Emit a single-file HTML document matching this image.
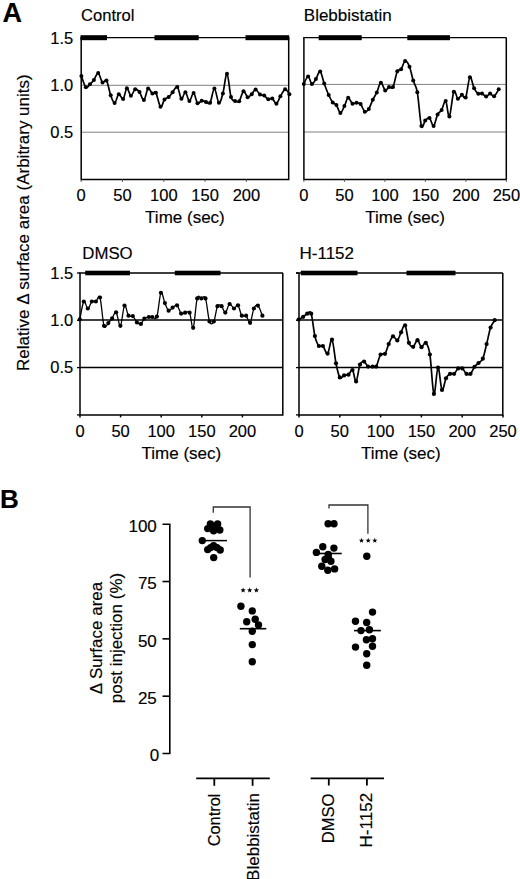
<!DOCTYPE html>
<html><head><meta charset="utf-8"><style>
html,body{margin:0;padding:0;background:#fff;}
body{width:520px;height:879px;overflow:hidden;}
svg{display:block;font-family:"Liberation Sans", sans-serif;}
text{stroke:#000;stroke-width:0.15px;}
</style></head><body>
<svg width="520" height="879" viewBox="0 0 520 879" fill="#000">
<rect width="520" height="879" fill="#fff"/>
<text x="2.6" y="21.7" font-size="27" text-anchor="start" font-weight="bold">A</text>
<text x="81.0" y="20.7" font-size="16.6" text-anchor="start" font-weight="normal">Control</text>
<text x="303.8" y="20.5" font-size="17" text-anchor="start" font-weight="normal">Blebbistatin</text>
<text x="82.3" y="258.7" font-size="16.8" text-anchor="start" font-weight="normal">DMSO</text>
<text x="299.5" y="258.7" font-size="17" text-anchor="start" font-weight="normal">H-1152</text>
<text x="29" y="371" font-size="17" text-anchor="start" font-weight="normal" transform="rotate(-90 29 371)">Relative &#916; surface area (Arbitrary units)</text>
<line x1="81.2" y1="85.3" x2="288.7" y2="85.3" stroke="#808080" stroke-width="1.0"/>
<line x1="81.2" y1="132.2" x2="288.7" y2="132.2" stroke="#808080" stroke-width="1.0"/>
<path d="M81.2,37.6 L81.2,179.4 L288.7,179.4 L288.7,37.6" fill="none" stroke="#000" stroke-width="1.5"/>
<line x1="303.9" y1="84.4" x2="506.3" y2="84.4" stroke="#808080" stroke-width="1.0"/>
<line x1="303.9" y1="132.0" x2="506.3" y2="132.0" stroke="#808080" stroke-width="1.0"/>
<path d="M303.9,37.6 L303.9,179.4 L506.3,179.4 L506.3,37.6" fill="none" stroke="#000" stroke-width="1.5"/>
<line x1="80.0" y1="320.0" x2="282.8" y2="320.0" stroke="#000" stroke-width="1.5"/>
<line x1="80.0" y1="367.4" x2="282.8" y2="367.4" stroke="#000" stroke-width="1.5"/>
<path d="M80.0,273.0 L80.0,414.9 L282.8,414.9 L282.8,273.0" fill="none" stroke="#000" stroke-width="1.5"/>
<line x1="77.0" y1="414.9" x2="80.0" y2="414.9" stroke="#000" stroke-width="1.3"/>
<line x1="77.0" y1="367.59999999999997" x2="80.0" y2="367.59999999999997" stroke="#000" stroke-width="1.3"/>
<line x1="77.0" y1="320.3" x2="80.0" y2="320.3" stroke="#000" stroke-width="1.3"/>
<line x1="77.0" y1="273.0" x2="80.0" y2="273.0" stroke="#000" stroke-width="1.3"/>
<line x1="299.0" y1="319.9" x2="502.8" y2="319.9" stroke="#000" stroke-width="1.5"/>
<line x1="299.0" y1="367.6" x2="502.8" y2="367.6" stroke="#000" stroke-width="1.5"/>
<path d="M299.0,273.0 L299.0,414.9 L502.8,414.9 L502.8,273.0" fill="none" stroke="#000" stroke-width="1.5"/>
<line x1="296.0" y1="414.9" x2="299.0" y2="414.9" stroke="#000" stroke-width="1.3"/>
<line x1="296.0" y1="367.59999999999997" x2="299.0" y2="367.59999999999997" stroke="#000" stroke-width="1.3"/>
<line x1="296.0" y1="320.3" x2="299.0" y2="320.3" stroke="#000" stroke-width="1.3"/>
<line x1="296.0" y1="273.0" x2="299.0" y2="273.0" stroke="#000" stroke-width="1.3"/>
<line x1="80.5" y1="37.7" x2="289.2" y2="37.7" stroke="#000" stroke-width="1.3"/>
<rect x="80.5" y="35.2" width="26.5" height="5"/>
<rect x="154.5" y="35.2" width="44.19999999999999" height="5"/>
<rect x="245.5" y="35.2" width="43.69999999999999" height="5"/>
<line x1="303.2" y1="37.7" x2="506.3" y2="37.7" stroke="#000" stroke-width="1.3"/>
<rect x="318.7" y="35.2" width="43.0" height="5"/>
<rect x="407.3" y="35.2" width="42.69999999999999" height="5"/>
<line x1="79.3" y1="273.0" x2="283.0" y2="273.0" stroke="#000" stroke-width="1.3"/>
<rect x="85.2" y="270.7" width="44.8" height="4.6"/>
<rect x="174.8" y="270.7" width="45.69999999999999" height="4.6"/>
<line x1="296" y1="273.0" x2="502.8" y2="273.0" stroke="#000" stroke-width="1.3"/>
<rect x="300.8" y="270.7" width="56.69999999999999" height="4.6"/>
<rect x="406.5" y="270.7" width="49.0" height="4.6"/>
<text x="73.3" y="44.4" font-size="16.5" text-anchor="end" font-weight="normal">1.5</text>
<text x="73.3" y="90.5" font-size="16.5" text-anchor="end" font-weight="normal">1.0</text>
<text x="73.3" y="138.3" font-size="16.5" text-anchor="end" font-weight="normal">0.5</text>
<text x="73.3" y="279.4" font-size="16.5" text-anchor="end" font-weight="normal">1.5</text>
<text x="73.3" y="325.7" font-size="16.5" text-anchor="end" font-weight="normal">1.0</text>
<text x="73.3" y="372.79999999999995" font-size="16.5" text-anchor="end" font-weight="normal">0.5</text>
<line x1="81.2" y1="179.4" x2="81.2" y2="181.9" stroke="#555" stroke-width="1.0"/>
<text x="81.2" y="201.2" font-size="16.5" text-anchor="middle" font-weight="normal">0</text>
<line x1="122.5" y1="179.4" x2="122.5" y2="181.9" stroke="#555" stroke-width="1.0"/>
<text x="122.5" y="201.2" font-size="16.5" text-anchor="middle" font-weight="normal">50</text>
<line x1="163.8" y1="179.4" x2="163.8" y2="181.9" stroke="#555" stroke-width="1.0"/>
<text x="163.8" y="201.2" font-size="16.5" text-anchor="middle" font-weight="normal">100</text>
<line x1="205.1" y1="179.4" x2="205.1" y2="181.9" stroke="#555" stroke-width="1.0"/>
<text x="205.1" y="201.2" font-size="16.5" text-anchor="middle" font-weight="normal">150</text>
<line x1="246.39999999999998" y1="179.4" x2="246.39999999999998" y2="181.9" stroke="#555" stroke-width="1.0"/>
<text x="246.39999999999998" y="201.2" font-size="16.5" text-anchor="middle" font-weight="normal">200</text>
<text x="184.95" y="222.7" font-size="17" text-anchor="middle" font-weight="normal">Time (sec)</text>
<line x1="303.9" y1="179.4" x2="303.9" y2="181.9" stroke="#555" stroke-width="1.0"/>
<text x="303.9" y="201.2" font-size="16.5" text-anchor="middle" font-weight="normal">0</text>
<line x1="344.4" y1="179.4" x2="344.4" y2="181.9" stroke="#555" stroke-width="1.0"/>
<text x="344.4" y="201.2" font-size="16.5" text-anchor="middle" font-weight="normal">50</text>
<line x1="384.9" y1="179.4" x2="384.9" y2="181.9" stroke="#555" stroke-width="1.0"/>
<text x="384.9" y="201.2" font-size="16.5" text-anchor="middle" font-weight="normal">100</text>
<line x1="425.4" y1="179.4" x2="425.4" y2="181.9" stroke="#555" stroke-width="1.0"/>
<text x="425.4" y="201.2" font-size="16.5" text-anchor="middle" font-weight="normal">150</text>
<line x1="465.9" y1="179.4" x2="465.9" y2="181.9" stroke="#555" stroke-width="1.0"/>
<text x="465.9" y="201.2" font-size="16.5" text-anchor="middle" font-weight="normal">200</text>
<line x1="506.4" y1="179.4" x2="506.4" y2="181.9" stroke="#555" stroke-width="1.0"/>
<text x="506.4" y="201.2" font-size="16.5" text-anchor="middle" font-weight="normal">250</text>
<text x="405.1" y="222.7" font-size="17" text-anchor="middle" font-weight="normal">Time (sec)</text>
<line x1="80.0" y1="414.9" x2="80.0" y2="417.4" stroke="#000" stroke-width="1.5"/>
<text x="80.0" y="437.0" font-size="16.5" text-anchor="middle" font-weight="normal">0</text>
<line x1="120.6" y1="414.9" x2="120.6" y2="417.4" stroke="#000" stroke-width="1.5"/>
<text x="120.6" y="437.0" font-size="16.5" text-anchor="middle" font-weight="normal">50</text>
<line x1="161.2" y1="414.9" x2="161.2" y2="417.4" stroke="#000" stroke-width="1.5"/>
<text x="161.2" y="437.0" font-size="16.5" text-anchor="middle" font-weight="normal">100</text>
<line x1="201.8" y1="414.9" x2="201.8" y2="417.4" stroke="#000" stroke-width="1.5"/>
<text x="201.8" y="437.0" font-size="16.5" text-anchor="middle" font-weight="normal">150</text>
<line x1="242.4" y1="414.9" x2="242.4" y2="417.4" stroke="#000" stroke-width="1.5"/>
<text x="242.4" y="437.0" font-size="16.5" text-anchor="middle" font-weight="normal">200</text>
<text x="181.4" y="458.5" font-size="17" text-anchor="middle" font-weight="normal">Time (sec)</text>
<line x1="299.0" y1="414.9" x2="299.0" y2="417.4" stroke="#000" stroke-width="1.5"/>
<text x="299.0" y="437.0" font-size="16.5" text-anchor="middle" font-weight="normal">0</text>
<line x1="339.8" y1="414.9" x2="339.8" y2="417.4" stroke="#000" stroke-width="1.5"/>
<text x="339.8" y="437.0" font-size="16.5" text-anchor="middle" font-weight="normal">50</text>
<line x1="380.6" y1="414.9" x2="380.6" y2="417.4" stroke="#000" stroke-width="1.5"/>
<text x="380.6" y="437.0" font-size="16.5" text-anchor="middle" font-weight="normal">100</text>
<line x1="421.4" y1="414.9" x2="421.4" y2="417.4" stroke="#000" stroke-width="1.5"/>
<text x="421.4" y="437.0" font-size="16.5" text-anchor="middle" font-weight="normal">150</text>
<line x1="462.2" y1="414.9" x2="462.2" y2="417.4" stroke="#000" stroke-width="1.5"/>
<text x="462.2" y="437.0" font-size="16.5" text-anchor="middle" font-weight="normal">200</text>
<line x1="503.0" y1="414.9" x2="503.0" y2="417.4" stroke="#000" stroke-width="1.5"/>
<text x="503.0" y="437.0" font-size="16.5" text-anchor="middle" font-weight="normal">250</text>
<text x="400.9" y="458.5" font-size="17" text-anchor="middle" font-weight="normal">Time (sec)</text>
<path d="M81.40,75.90 C82.13,77.78 84.38,85.82 85.80,87.20 C87.22,88.58 88.55,85.42 89.90,84.20 C91.25,82.98 92.52,81.75 93.90,79.90 C95.28,78.05 96.77,72.65 98.20,73.10 C99.63,73.55 101.12,81.37 102.50,82.60 C103.88,83.83 105.13,78.38 106.50,80.50 C107.87,82.62 109.35,91.53 110.70,95.30 C112.05,99.07 113.25,103.27 114.60,103.10 C115.95,102.93 117.38,94.98 118.80,94.30 C120.22,93.62 121.75,100.00 123.10,99.00 C124.45,98.00 125.60,88.85 126.90,88.30 C128.20,87.75 129.52,95.53 130.90,95.70 C132.28,95.87 133.77,89.92 135.20,89.30 C136.63,88.68 138.05,90.20 139.50,92.00 C140.95,93.80 142.47,100.68 143.90,100.10 C145.33,99.52 146.68,89.58 148.10,88.50 C149.52,87.42 151.10,92.90 152.40,93.60 C153.70,94.30 154.55,90.50 155.90,92.70 C157.25,94.90 159.07,105.65 160.50,106.80 C161.93,107.95 163.13,101.23 164.50,99.60 C165.87,97.97 167.35,98.22 168.70,97.00 C170.05,95.78 171.17,93.98 172.60,92.30 C174.03,90.62 175.83,85.82 177.30,86.90 C178.77,87.98 180.05,97.90 181.40,98.80 C182.75,99.70 184.07,91.93 185.40,92.30 C186.73,92.67 188.03,100.88 189.40,101.00 C190.77,101.12 192.25,92.63 193.60,93.00 C194.95,93.37 196.15,101.92 197.50,103.20 C198.85,104.48 200.28,100.90 201.70,100.70 C203.12,100.50 204.60,101.65 206.00,102.00 C207.40,102.35 208.70,105.03 210.10,102.80 C211.50,100.57 212.93,88.60 214.40,88.60 C215.87,88.60 217.48,102.00 218.90,102.80 C220.32,103.60 221.55,98.23 222.90,93.40 C224.25,88.57 225.65,73.20 227.00,73.80 C228.35,74.40 229.67,92.47 231.00,97.00 C232.33,101.53 233.63,100.30 235.00,101.00 C236.37,101.70 237.78,102.83 239.20,101.20 C240.62,99.57 242.10,91.87 243.50,91.20 C244.90,90.53 246.23,96.70 247.60,97.20 C248.97,97.70 250.37,95.48 251.70,94.20 C253.03,92.92 254.22,89.45 255.60,89.50 C256.98,89.55 258.57,93.50 260.00,94.50 C261.43,95.50 262.82,94.70 264.20,95.50 C265.58,96.30 266.95,98.82 268.30,99.30 C269.65,99.78 270.95,97.67 272.30,98.40 C273.65,99.13 275.05,104.05 276.40,103.70 C277.75,103.35 278.95,98.70 280.40,96.30 C281.85,93.90 283.60,89.63 285.10,89.30 C286.60,88.97 288.68,93.47 289.40,94.30" fill="none" stroke="#000" stroke-width="1.7" stroke-linejoin="round"/>
<circle cx="81.4" cy="75.9" r="2.0"/>
<circle cx="85.8" cy="87.2" r="2.0"/>
<circle cx="89.9" cy="84.2" r="2.0"/>
<circle cx="93.9" cy="79.9" r="2.0"/>
<circle cx="98.2" cy="73.1" r="2.0"/>
<circle cx="102.5" cy="82.6" r="2.0"/>
<circle cx="106.5" cy="80.5" r="2.0"/>
<circle cx="110.7" cy="95.3" r="2.0"/>
<circle cx="114.6" cy="103.1" r="2.0"/>
<circle cx="118.8" cy="94.3" r="2.0"/>
<circle cx="123.1" cy="99.0" r="2.0"/>
<circle cx="126.9" cy="88.3" r="2.0"/>
<circle cx="130.9" cy="95.7" r="2.0"/>
<circle cx="135.2" cy="89.3" r="2.0"/>
<circle cx="139.5" cy="92.0" r="2.0"/>
<circle cx="143.9" cy="100.1" r="2.0"/>
<circle cx="148.1" cy="88.5" r="2.0"/>
<circle cx="152.4" cy="93.6" r="2.0"/>
<circle cx="155.9" cy="92.7" r="2.0"/>
<circle cx="160.5" cy="106.8" r="2.0"/>
<circle cx="164.5" cy="99.6" r="2.0"/>
<circle cx="168.7" cy="97.0" r="2.0"/>
<circle cx="172.6" cy="92.3" r="2.0"/>
<circle cx="177.3" cy="86.9" r="2.0"/>
<circle cx="181.4" cy="98.8" r="2.0"/>
<circle cx="185.4" cy="92.3" r="2.0"/>
<circle cx="189.4" cy="101.0" r="2.0"/>
<circle cx="193.6" cy="93.0" r="2.0"/>
<circle cx="197.5" cy="103.2" r="2.0"/>
<circle cx="201.7" cy="100.7" r="2.0"/>
<circle cx="206.0" cy="102.0" r="2.0"/>
<circle cx="210.1" cy="102.8" r="2.0"/>
<circle cx="214.4" cy="88.6" r="2.0"/>
<circle cx="218.9" cy="102.8" r="2.0"/>
<circle cx="222.9" cy="93.4" r="2.0"/>
<circle cx="227.0" cy="73.8" r="2.0"/>
<circle cx="231.0" cy="97.0" r="2.0"/>
<circle cx="235.0" cy="101.0" r="2.0"/>
<circle cx="239.2" cy="101.2" r="2.0"/>
<circle cx="243.5" cy="91.2" r="2.0"/>
<circle cx="247.6" cy="97.2" r="2.0"/>
<circle cx="251.7" cy="94.2" r="2.0"/>
<circle cx="255.6" cy="89.5" r="2.0"/>
<circle cx="260.0" cy="94.5" r="2.0"/>
<circle cx="264.2" cy="95.5" r="2.0"/>
<circle cx="268.3" cy="99.3" r="2.0"/>
<circle cx="272.3" cy="98.4" r="2.0"/>
<circle cx="276.4" cy="103.7" r="2.0"/>
<circle cx="280.4" cy="96.3" r="2.0"/>
<circle cx="285.1" cy="89.3" r="2.0"/>
<circle cx="289.4" cy="94.3" r="2.0"/>
<path d="M303.80,83.90 C304.52,82.67 306.75,76.50 308.10,76.50 C309.45,76.50 310.60,83.48 311.90,83.90 C313.20,84.32 314.52,81.08 315.90,79.00 C317.28,76.92 318.82,70.65 320.20,71.40 C321.58,72.15 322.78,79.57 324.20,83.50 C325.62,87.43 327.28,91.85 328.70,95.00 C330.12,98.15 331.42,100.72 332.70,102.40 C333.98,104.08 335.12,103.35 336.40,105.10 C337.68,106.85 339.07,112.73 340.40,112.90 C341.73,113.07 343.10,108.62 344.40,106.10 C345.70,103.58 346.85,98.20 348.20,97.80 C349.55,97.40 351.12,102.87 352.50,103.70 C353.88,104.53 355.15,102.73 356.50,102.80 C357.85,102.87 359.22,102.62 360.60,104.10 C361.98,105.58 363.43,110.90 364.80,111.70 C366.17,112.50 367.47,110.88 368.80,108.90 C370.13,106.92 371.47,102.55 372.80,99.80 C374.13,97.05 375.45,95.25 376.80,92.40 C378.15,89.55 379.50,83.03 380.90,82.70 C382.30,82.37 383.85,89.68 385.20,90.40 C386.55,91.12 387.70,87.57 389.00,87.00 C390.30,86.43 391.62,89.62 393.00,87.00 C394.38,84.38 395.95,74.27 397.30,71.30 C398.65,68.33 399.80,70.92 401.10,69.20 C402.40,67.48 403.70,61.40 405.10,61.00 C406.50,60.60 408.15,63.53 409.50,66.80 C410.85,70.07 411.90,76.37 413.20,80.60 C414.50,84.83 415.93,84.65 417.30,92.20 C418.67,99.75 420.08,121.17 421.40,125.90 C422.72,130.63 423.85,121.90 425.20,120.60 C426.55,119.30 428.10,117.22 429.50,118.10 C430.90,118.98 432.25,126.50 433.60,125.90 C434.95,125.30 436.27,117.13 437.60,114.50 C438.93,111.87 440.25,112.35 441.60,110.10 C442.95,107.85 444.40,99.93 445.70,101.00 C447.00,102.07 448.05,118.05 449.40,116.50 C450.75,114.95 452.38,94.65 453.80,91.70 C455.22,88.75 456.55,98.28 457.90,98.80 C459.25,99.32 460.60,95.02 461.90,94.80 C463.20,94.58 464.37,100.43 465.70,97.50 C467.03,94.57 468.50,78.73 469.90,77.20 C471.30,75.67 472.70,85.55 474.10,88.30 C475.50,91.05 476.98,92.85 478.30,93.70 C479.62,94.55 480.70,92.92 482.00,93.40 C483.30,93.88 484.75,96.57 486.10,96.60 C487.45,96.63 488.77,93.65 490.10,93.60 C491.43,93.55 492.67,97.02 494.10,96.30 C495.53,95.58 497.93,90.47 498.70,89.30" fill="none" stroke="#000" stroke-width="1.7" stroke-linejoin="round"/>
<circle cx="303.8" cy="83.9" r="2.0"/>
<circle cx="308.1" cy="76.5" r="2.0"/>
<circle cx="311.9" cy="83.9" r="2.0"/>
<circle cx="315.9" cy="79.0" r="2.0"/>
<circle cx="320.2" cy="71.4" r="2.0"/>
<circle cx="324.2" cy="83.5" r="2.0"/>
<circle cx="328.7" cy="95.0" r="2.0"/>
<circle cx="332.7" cy="102.4" r="2.0"/>
<circle cx="336.4" cy="105.1" r="2.0"/>
<circle cx="340.4" cy="112.9" r="2.0"/>
<circle cx="344.4" cy="106.1" r="2.0"/>
<circle cx="348.2" cy="97.8" r="2.0"/>
<circle cx="352.5" cy="103.7" r="2.0"/>
<circle cx="356.5" cy="102.8" r="2.0"/>
<circle cx="360.6" cy="104.1" r="2.0"/>
<circle cx="364.8" cy="111.7" r="2.0"/>
<circle cx="368.8" cy="108.9" r="2.0"/>
<circle cx="372.8" cy="99.8" r="2.0"/>
<circle cx="376.8" cy="92.4" r="2.0"/>
<circle cx="380.9" cy="82.7" r="2.0"/>
<circle cx="385.2" cy="90.4" r="2.0"/>
<circle cx="389.0" cy="87.0" r="2.0"/>
<circle cx="393.0" cy="87.0" r="2.0"/>
<circle cx="397.3" cy="71.3" r="2.0"/>
<circle cx="401.1" cy="69.2" r="2.0"/>
<circle cx="405.1" cy="61.0" r="2.0"/>
<circle cx="409.5" cy="66.8" r="2.0"/>
<circle cx="413.2" cy="80.6" r="2.0"/>
<circle cx="417.3" cy="92.2" r="2.0"/>
<circle cx="421.4" cy="125.9" r="2.0"/>
<circle cx="425.2" cy="120.6" r="2.0"/>
<circle cx="429.5" cy="118.1" r="2.0"/>
<circle cx="433.6" cy="125.9" r="2.0"/>
<circle cx="437.6" cy="114.5" r="2.0"/>
<circle cx="441.6" cy="110.1" r="2.0"/>
<circle cx="445.7" cy="101.0" r="2.0"/>
<circle cx="449.4" cy="116.5" r="2.0"/>
<circle cx="453.8" cy="91.7" r="2.0"/>
<circle cx="457.9" cy="98.8" r="2.0"/>
<circle cx="461.9" cy="94.8" r="2.0"/>
<circle cx="465.7" cy="97.5" r="2.0"/>
<circle cx="469.9" cy="77.2" r="2.0"/>
<circle cx="474.1" cy="88.3" r="2.0"/>
<circle cx="478.3" cy="93.7" r="2.0"/>
<circle cx="482.0" cy="93.4" r="2.0"/>
<circle cx="486.1" cy="96.6" r="2.0"/>
<circle cx="490.1" cy="93.6" r="2.0"/>
<circle cx="494.1" cy="96.3" r="2.0"/>
<circle cx="498.7" cy="89.3" r="2.0"/>
<path d="M79.80,319.40 C80.47,316.42 82.47,303.32 83.80,301.50 C85.13,299.68 86.45,308.50 87.80,308.50 C89.15,308.50 90.55,302.67 91.90,301.50 C93.25,300.33 94.55,302.17 95.90,301.50 C97.25,300.83 98.65,293.45 100.00,297.50 C101.35,301.55 102.62,321.53 104.00,325.80 C105.38,330.07 106.95,324.33 108.30,323.10 C109.65,321.87 110.80,320.20 112.10,318.40 C113.40,316.60 114.72,311.07 116.10,312.30 C117.48,313.53 119.00,326.92 120.40,325.80 C121.80,324.68 123.15,307.28 124.50,305.60 C125.85,303.92 127.12,313.95 128.50,315.70 C129.88,317.45 131.40,314.98 132.80,316.10 C134.20,317.22 135.55,321.10 136.90,322.40 C138.25,323.70 139.65,324.53 140.90,323.90 C142.15,323.27 143.08,319.75 144.40,318.60 C145.72,317.45 147.50,317.27 148.80,317.00 C150.10,316.73 150.85,317.07 152.20,317.00 C153.55,316.93 155.45,320.63 156.90,316.60 C158.35,312.57 159.57,295.05 160.90,292.80 C162.23,290.55 163.62,300.12 164.90,303.10 C166.18,306.08 167.32,309.95 168.60,310.70 C169.88,311.45 171.20,308.50 172.60,307.60 C174.00,306.70 175.58,304.30 177.00,305.30 C178.42,306.30 179.75,312.37 181.10,313.60 C182.45,314.83 183.68,312.85 185.10,312.70 C186.52,312.55 188.25,310.18 189.60,312.70 C190.95,315.22 191.93,330.18 193.20,327.80 C194.47,325.42 195.85,303.30 197.20,298.40 C198.55,293.50 199.92,298.40 201.30,298.40 C202.68,298.40 204.13,294.55 205.50,298.40 C206.87,302.25 208.12,317.65 209.50,321.50 C210.88,325.35 212.47,324.05 213.80,321.50 C215.13,318.95 216.20,308.75 217.50,306.20 C218.80,303.65 220.30,305.13 221.60,306.20 C222.90,307.27 223.97,312.97 225.30,312.60 C226.63,312.23 228.15,304.68 229.60,304.00 C231.05,303.32 232.60,308.28 234.00,308.50 C235.40,308.72 236.70,304.10 238.00,305.30 C239.30,306.50 240.45,313.97 241.80,315.70 C243.15,317.43 244.72,314.52 246.10,315.70 C247.48,316.88 248.80,324.00 250.10,322.80 C251.40,321.60 252.60,311.37 253.90,308.50 C255.20,305.63 256.48,304.40 257.90,305.60 C259.32,306.80 261.65,314.02 262.40,315.70" fill="none" stroke="#000" stroke-width="1.3" stroke-linejoin="round"/>
<circle cx="79.8" cy="319.4" r="2.1"/>
<circle cx="83.8" cy="301.5" r="2.1"/>
<circle cx="87.8" cy="308.5" r="2.1"/>
<circle cx="91.9" cy="301.5" r="2.1"/>
<circle cx="95.9" cy="301.5" r="2.1"/>
<circle cx="100.0" cy="297.5" r="2.1"/>
<circle cx="104.0" cy="325.8" r="2.1"/>
<circle cx="108.3" cy="323.1" r="2.1"/>
<circle cx="112.1" cy="318.4" r="2.1"/>
<circle cx="116.1" cy="312.3" r="2.1"/>
<circle cx="120.4" cy="325.8" r="2.1"/>
<circle cx="124.5" cy="305.6" r="2.1"/>
<circle cx="128.5" cy="315.7" r="2.1"/>
<circle cx="132.8" cy="316.1" r="2.1"/>
<circle cx="136.9" cy="322.4" r="2.1"/>
<circle cx="140.9" cy="323.9" r="2.1"/>
<circle cx="144.4" cy="318.6" r="2.1"/>
<circle cx="148.8" cy="317.0" r="2.1"/>
<circle cx="152.2" cy="317.0" r="2.1"/>
<circle cx="156.9" cy="316.6" r="2.1"/>
<circle cx="160.9" cy="292.8" r="2.1"/>
<circle cx="164.9" cy="303.1" r="2.1"/>
<circle cx="168.6" cy="310.7" r="2.1"/>
<circle cx="172.6" cy="307.6" r="2.1"/>
<circle cx="177.0" cy="305.3" r="2.1"/>
<circle cx="181.1" cy="313.6" r="2.1"/>
<circle cx="185.1" cy="312.7" r="2.1"/>
<circle cx="189.6" cy="312.7" r="2.1"/>
<circle cx="193.2" cy="327.8" r="2.1"/>
<circle cx="197.2" cy="298.4" r="2.1"/>
<circle cx="201.3" cy="298.4" r="2.1"/>
<circle cx="205.5" cy="298.4" r="2.1"/>
<circle cx="209.5" cy="321.5" r="2.1"/>
<circle cx="213.8" cy="321.5" r="2.1"/>
<circle cx="217.5" cy="306.2" r="2.1"/>
<circle cx="221.6" cy="306.2" r="2.1"/>
<circle cx="225.3" cy="312.6" r="2.1"/>
<circle cx="229.6" cy="304.0" r="2.1"/>
<circle cx="234.0" cy="308.5" r="2.1"/>
<circle cx="238.0" cy="305.3" r="2.1"/>
<circle cx="241.8" cy="315.7" r="2.1"/>
<circle cx="246.1" cy="315.7" r="2.1"/>
<circle cx="250.1" cy="322.8" r="2.1"/>
<circle cx="253.9" cy="308.5" r="2.1"/>
<circle cx="257.9" cy="305.6" r="2.1"/>
<circle cx="262.4" cy="315.7" r="2.1"/>
<path d="M298.70,319.50 C299.45,319.05 301.78,317.77 303.20,316.80 C304.62,315.83 305.87,314.22 307.20,313.70 C308.53,313.18 309.92,309.97 311.20,313.70 C312.48,317.43 313.62,330.72 314.90,336.10 C316.18,341.48 317.57,344.35 318.90,346.00 C320.23,347.65 321.45,344.73 322.90,346.00 C324.35,347.27 326.08,354.65 327.60,353.60 C329.12,352.55 330.60,338.08 332.00,339.70 C333.40,341.32 334.70,357.02 336.00,363.30 C337.30,369.58 338.45,375.38 339.80,377.40 C341.15,379.42 342.65,375.85 344.10,375.40 C345.55,374.95 347.10,375.60 348.50,374.70 C349.90,373.80 351.23,368.88 352.50,370.00 C353.77,371.12 354.85,382.32 356.10,381.40 C357.35,380.48 358.67,367.80 360.00,364.50 C361.33,361.20 362.75,361.25 364.10,361.60 C365.45,361.95 366.68,365.77 368.10,366.60 C369.52,367.43 371.25,366.60 372.60,366.60 C373.95,366.60 374.87,368.62 376.20,366.60 C377.53,364.58 379.13,356.63 380.60,354.50 C382.07,352.37 383.65,355.53 385.00,353.80 C386.35,352.07 387.37,347.02 388.70,344.10 C390.03,341.18 391.57,336.92 393.00,336.30 C394.43,335.68 395.95,341.07 397.30,340.40 C398.65,339.73 399.80,334.82 401.10,332.30 C402.40,329.78 403.80,323.55 405.10,325.30 C406.40,327.05 407.55,339.22 408.90,342.80 C410.25,346.38 411.77,347.23 413.20,346.80 C414.63,346.37 416.12,340.13 417.50,340.20 C418.88,340.27 420.12,346.77 421.50,347.20 C422.88,347.63 424.40,341.58 425.80,342.80 C427.20,344.02 428.55,345.98 429.90,354.50 C431.25,363.02 432.55,391.72 433.90,393.90 C435.25,396.08 436.65,368.27 438.00,367.60 C439.35,366.93 440.67,388.12 442.00,389.90 C443.33,391.68 444.65,380.98 446.00,378.30 C447.35,375.62 448.75,374.55 450.10,373.80 C451.45,373.05 452.75,374.70 454.10,373.80 C455.45,372.90 456.83,369.30 458.20,368.40 C459.57,367.50 460.92,367.50 462.30,368.40 C463.68,369.30 465.13,372.90 466.50,373.80 C467.87,374.70 469.17,374.97 470.50,373.80 C471.83,372.63 473.17,368.60 474.50,366.80 C475.83,365.00 477.12,364.35 478.50,363.00 C479.88,361.65 481.45,361.85 482.80,358.70 C484.15,355.55 485.30,349.28 486.60,344.10 C487.90,338.92 489.25,331.58 490.60,327.60 C491.95,323.62 494.02,321.43 494.70,320.20" fill="none" stroke="#000" stroke-width="1.7" stroke-linejoin="round"/>
<circle cx="298.7" cy="319.5" r="2.1"/>
<circle cx="303.2" cy="316.8" r="2.1"/>
<circle cx="307.2" cy="313.7" r="2.1"/>
<circle cx="311.2" cy="313.7" r="2.1"/>
<circle cx="314.9" cy="336.1" r="2.1"/>
<circle cx="318.9" cy="346.0" r="2.1"/>
<circle cx="322.9" cy="346.0" r="2.1"/>
<circle cx="327.6" cy="353.6" r="2.1"/>
<circle cx="332.0" cy="339.7" r="2.1"/>
<circle cx="336.0" cy="363.3" r="2.1"/>
<circle cx="339.8" cy="377.4" r="2.1"/>
<circle cx="344.1" cy="375.4" r="2.1"/>
<circle cx="348.5" cy="374.7" r="2.1"/>
<circle cx="352.5" cy="370.0" r="2.1"/>
<circle cx="356.1" cy="381.4" r="2.1"/>
<circle cx="360.0" cy="364.5" r="2.1"/>
<circle cx="364.1" cy="361.6" r="2.1"/>
<circle cx="368.1" cy="366.6" r="2.1"/>
<circle cx="372.6" cy="366.6" r="2.1"/>
<circle cx="376.2" cy="366.6" r="2.1"/>
<circle cx="380.6" cy="354.5" r="2.1"/>
<circle cx="385.0" cy="353.8" r="2.1"/>
<circle cx="388.7" cy="344.1" r="2.1"/>
<circle cx="393.0" cy="336.3" r="2.1"/>
<circle cx="397.3" cy="340.4" r="2.1"/>
<circle cx="401.1" cy="332.3" r="2.1"/>
<circle cx="405.1" cy="325.3" r="2.1"/>
<circle cx="408.9" cy="342.8" r="2.1"/>
<circle cx="413.2" cy="346.8" r="2.1"/>
<circle cx="417.5" cy="340.2" r="2.1"/>
<circle cx="421.5" cy="347.2" r="2.1"/>
<circle cx="425.8" cy="342.8" r="2.1"/>
<circle cx="429.9" cy="354.5" r="2.1"/>
<circle cx="433.9" cy="393.9" r="2.1"/>
<circle cx="438.0" cy="367.6" r="2.1"/>
<circle cx="442.0" cy="389.9" r="2.1"/>
<circle cx="446.0" cy="378.3" r="2.1"/>
<circle cx="450.1" cy="373.8" r="2.1"/>
<circle cx="454.1" cy="373.8" r="2.1"/>
<circle cx="458.2" cy="368.4" r="2.1"/>
<circle cx="462.3" cy="368.4" r="2.1"/>
<circle cx="466.5" cy="373.8" r="2.1"/>
<circle cx="470.5" cy="373.8" r="2.1"/>
<circle cx="474.5" cy="366.8" r="2.1"/>
<circle cx="478.5" cy="363.0" r="2.1"/>
<circle cx="482.8" cy="358.7" r="2.1"/>
<circle cx="486.6" cy="344.1" r="2.1"/>
<circle cx="490.6" cy="327.6" r="2.1"/>
<circle cx="494.7" cy="320.2" r="2.1"/>
<text x="0" y="507.8" font-size="26" text-anchor="start" font-weight="bold">B</text>
<path d="M162.5,524.2 L169.8,524.2 L169.8,753.5 L162.5,753.5" fill="none" stroke="#000" stroke-width="1.6"/>
<line x1="162.5" y1="581.525" x2="169.8" y2="581.525" stroke="#000" stroke-width="1.6"/>
<line x1="162.5" y1="638.85" x2="169.8" y2="638.85" stroke="#000" stroke-width="1.6"/>
<line x1="162.5" y1="696.175" x2="169.8" y2="696.175" stroke="#000" stroke-width="1.6"/>
<text x="156.8" y="532.0" font-size="17" text-anchor="end" font-weight="normal">100</text>
<text x="156.8" y="589.3249999999999" font-size="17" text-anchor="end" font-weight="normal">75</text>
<text x="156.8" y="646.65" font-size="17" text-anchor="end" font-weight="normal">50</text>
<text x="156.8" y="703.9749999999999" font-size="17" text-anchor="end" font-weight="normal">25</text>
<text x="159.2" y="761.3" font-size="17" text-anchor="end" font-weight="normal">0</text>
<text x="102.2" y="638" font-size="17" text-anchor="middle" font-weight="normal" transform="rotate(-90 102.2 638)">&#916; Surface area</text>
<text x="122.3" y="638" font-size="17" text-anchor="middle" font-weight="normal" transform="rotate(-90 122.3 638)">post injection (%)</text>
<path d="M213.3,512.7 L213.3,507 L250.1,507 L250.1,577.5" fill="none" stroke="#333" stroke-width="1.3"/>
<path d="M329,508.5 L329,505 L367.9,505 L367.9,533.8" fill="none" stroke="#333" stroke-width="1.3"/>
<polygon points="243.10,587.55 243.78,589.37 245.72,589.45 244.19,590.66 244.72,592.52 243.10,591.45 241.48,592.52 242.01,590.66 240.48,589.45 242.42,589.37"/>
<polygon points="249.70,587.55 250.38,589.37 252.32,589.45 250.79,590.66 251.32,592.52 249.70,591.45 248.08,592.52 248.61,590.66 247.08,589.45 249.02,589.37"/>
<polygon points="256.40,587.55 257.08,589.37 259.02,589.45 257.49,590.66 258.02,592.52 256.40,591.45 254.78,592.52 255.31,590.66 253.78,589.45 255.72,589.37"/>
<polygon points="361.50,537.85 362.18,539.67 364.12,539.75 362.59,540.96 363.12,542.82 361.50,541.75 359.88,542.82 360.41,540.96 358.88,539.75 360.82,539.67"/>
<polygon points="368.20,537.85 368.88,539.67 370.82,539.75 369.29,540.96 369.82,542.82 368.20,541.75 366.58,542.82 367.11,540.96 365.58,539.75 367.52,539.67"/>
<polygon points="374.80,537.85 375.48,539.67 377.42,539.75 375.89,540.96 376.42,542.82 374.80,541.75 373.18,542.82 373.71,540.96 372.18,539.75 374.12,539.67"/>
<circle cx="210.4" cy="524" r="3.7"/>
<circle cx="217.6" cy="524" r="3.7"/>
<circle cx="214" cy="526.5" r="3.7"/>
<circle cx="207.7" cy="528.6" r="3.7"/>
<circle cx="219.8" cy="530.0" r="3.7"/>
<circle cx="213.6" cy="530.7" r="3.7"/>
<circle cx="202.3" cy="540.6" r="3.7"/>
<circle cx="213.6" cy="545.7" r="3.7"/>
<circle cx="210.6" cy="547.6" r="3.7"/>
<circle cx="217" cy="547.6" r="3.7"/>
<circle cx="207.7" cy="549.6" r="3.7"/>
<circle cx="220.2" cy="550" r="3.7"/>
<circle cx="213.7" cy="557.6" r="3.7"/>
<circle cx="240.9" cy="606.2" r="3.7"/>
<circle cx="252.3" cy="610.9" r="3.7"/>
<circle cx="246.7" cy="621.8" r="3.7"/>
<circle cx="255.2" cy="619.2" r="3.7"/>
<circle cx="258.5" cy="625.0" r="3.7"/>
<circle cx="252.3" cy="631.3" r="3.7"/>
<circle cx="252.3" cy="644.6" r="3.7"/>
<circle cx="252.3" cy="661.7" r="3.7"/>
<circle cx="328.1" cy="523.75" r="3.7"/>
<circle cx="334.0" cy="523.75" r="3.7"/>
<circle cx="322.8" cy="546.7" r="3.7"/>
<circle cx="333.9" cy="548.1" r="3.7"/>
<circle cx="316.4" cy="552.4" r="3.7"/>
<circle cx="328.2" cy="554.5" r="3.7"/>
<circle cx="328.3" cy="557.5" r="3.7"/>
<circle cx="325.1" cy="559.5" r="3.7"/>
<circle cx="330.9" cy="561.2" r="3.7"/>
<circle cx="321.8" cy="566.2" r="3.7"/>
<circle cx="327.8" cy="570.3" r="3.7"/>
<circle cx="334.6" cy="568.9" r="3.7"/>
<circle cx="366.8" cy="556.3" r="3.7"/>
<circle cx="372.5" cy="612.1" r="3.7"/>
<circle cx="355.5" cy="621.3" r="3.7"/>
<circle cx="366.7" cy="622.5" r="3.7"/>
<circle cx="361.0" cy="630.6" r="3.7"/>
<circle cx="369.4" cy="629.8" r="3.7"/>
<circle cx="366.4" cy="639.8" r="3.7"/>
<circle cx="372.5" cy="638.7" r="3.7"/>
<circle cx="355.5" cy="647.1" r="3.7"/>
<circle cx="372.5" cy="646.2" r="3.7"/>
<circle cx="366.7" cy="653.7" r="3.7"/>
<circle cx="366.7" cy="665.2" r="3.7"/>
<line x1="199.6" y1="540.6" x2="227" y2="540.6" stroke="#000" stroke-width="1.5"/>
<line x1="239.8" y1="628.7" x2="266.3" y2="628.7" stroke="#000" stroke-width="1.6"/>
<line x1="315" y1="553.5" x2="341.7" y2="553.5" stroke="#000" stroke-width="1.6"/>
<line x1="354" y1="630.6" x2="380.9" y2="630.6" stroke="#000" stroke-width="1.6"/>
<line x1="196.2" y1="778.3" x2="269.8" y2="778.3" stroke="#000" stroke-width="1.8"/>
<line x1="214.3" y1="778.3" x2="214.3" y2="785.8" stroke="#000" stroke-width="1.8"/>
<line x1="252.6" y1="778.3" x2="252.6" y2="785.8" stroke="#000" stroke-width="1.8"/>
<line x1="310.6" y1="778.3" x2="384.0" y2="778.3" stroke="#000" stroke-width="1.8"/>
<line x1="328.8" y1="778.3" x2="328.8" y2="785.5" stroke="#000" stroke-width="1.8"/>
<line x1="366.9" y1="778.3" x2="366.9" y2="785.5" stroke="#000" stroke-width="1.8"/>
<text x="219.6" y="793.5" font-size="16.4" text-anchor="end" font-weight="normal" transform="rotate(-90 219.6 793.5)">Control</text>
<text x="258.6" y="793.0" font-size="17" text-anchor="end" font-weight="normal" transform="rotate(-90 258.6 793.0)">Blebbistatin</text>
<text x="334.2" y="793.5" font-size="16.6" text-anchor="end" font-weight="normal" transform="rotate(-90 334.2 793.5)">DMSO</text>
<text x="372.3" y="792.9" font-size="17" text-anchor="end" font-weight="normal" transform="rotate(-90 372.3 792.9)">H-1152</text>
</svg>
</body></html>
